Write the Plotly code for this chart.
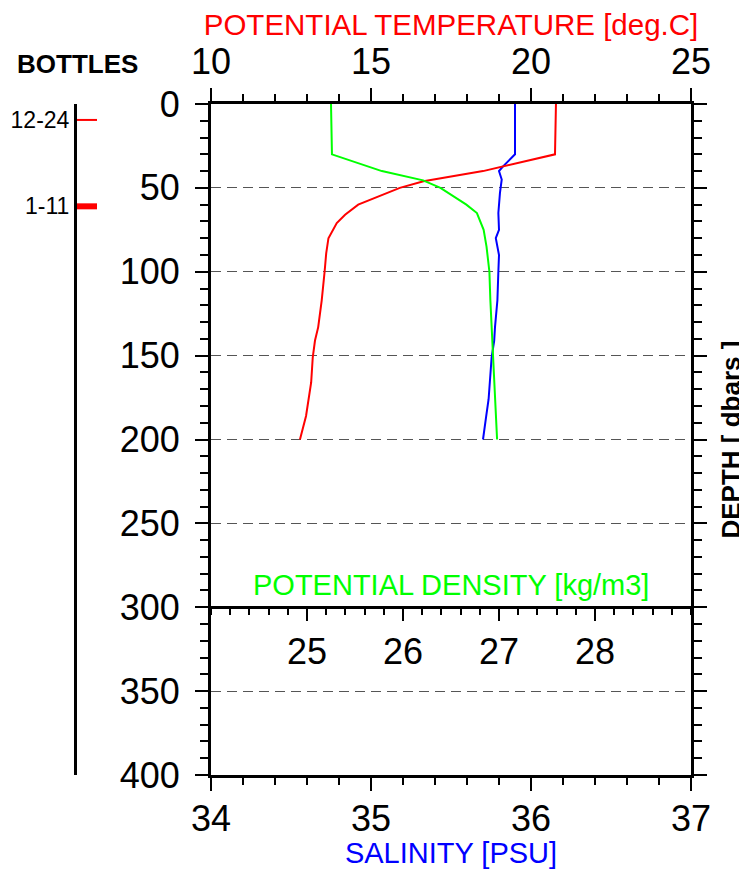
import plotly.graph_objects as go

# ---------------- data ----------------
temp_depth = [0, 30, 40, 46, 50, 60, 66, 71, 80, 89, 100, 117, 133, 141, 151, 166, 186, 200]
temp = [20.78, 20.75, 18.5, 16.64, 15.9, 14.6, 14.19, 13.93, 13.67, 13.6, 13.55, 13.46,
        13.35, 13.25, 13.18, 13.13, 12.97, 12.78]

sal_depth = [0, 30, 37, 40, 45, 53, 65, 75, 80, 90, 100, 117, 133, 141, 151, 166, 176, 186, 200]
sal = [35.9, 35.9, 35.827, 35.8, 35.817, 35.806, 35.796, 35.8, 35.78, 35.8, 35.796, 35.79,
       35.775, 35.77, 35.754, 35.744, 35.735, 35.72, 35.70]

dens_depth = [0, 30, 40, 45.5, 50, 60, 65, 75, 85, 100, 117, 140, 150, 176, 200]
dens = [25.25, 25.26, 25.78, 26.21, 26.39, 26.66, 26.77, 26.84, 26.87, 26.9, 26.91,
        26.93, 26.94, 26.96, 26.98]

bottle_labels = ["12-24", "1-11"]
bottle_depths = [9.5, 61]

depth_ticks = [0, 50, 100, 150, 200, 250, 300, 350, 400]
sal_ticks = [34, 35, 36, 37]
temp_ticks = [10, 15, 20, 25]
dens_ticks = [25, 26, 27, 28]

FONT = "Liberation Sans, Arial, sans-serif"
TICKFONT = dict(family=FONT, size=36, color="black")

# page body has an 8px margin; figure sized to fit the window
W, H = 739, 861
ML, MR, MT, MB = 2, 56, 96, 94
pw = W - ML - MR
x_dom = [(203 - ML) / pw, 1.0]
b_dom = [(69 - ML) / pw, (89 - ML) / pw]

fig = go.Figure()

fig.add_trace(go.Scatter(x=temp, y=temp_depth, xaxis="x2", yaxis="y", mode="lines",
                         line=dict(color="#ff0000", width=2), showlegend=False))
fig.add_trace(go.Scatter(x=dens, y=dens_depth, xaxis="x3", yaxis="y", mode="lines",
                         line=dict(color="#00ff00", width=2), showlegend=False))
fig.add_trace(go.Scatter(x=sal, y=sal_depth, xaxis="x", yaxis="y", mode="lines",
                         line=dict(color="#0000ff", width=2), showlegend=False))

# bottle column: bottle depths as red ticks on their own depth axis
for d, w in zip(bottle_depths, [2, 6]):
    fig.add_trace(go.Scatter(x=[0, 1], y=[d, d], xaxis="x4", yaxis="y2", mode="lines",
                             line=dict(color="#ff0000", width=w), showlegend=False))

common = dict(ticks="outside", tickwidth=1.5, tickcolor="black", showline=True,
              linecolor="black", linewidth=3, showgrid=False, zeroline=False,
              tickfont=TICKFONT)

fig.update_layout(
    width=W, height=H,
    margin=dict(l=ML, r=MR, t=MT, b=MB, autoexpand=False),
    paper_bgcolor="white", plot_bgcolor="rgba(0,0,0,0)",
    xaxis=dict(domain=x_dom, range=[34, 37], tickvals=sal_ticks, side="bottom", anchor="y",
               ticklen=13, ticklabelstandoff=-3,
               minor=dict(dtick=0.2, ticks="outside", ticklen=7, tickwidth=1.5, tickcolor="black"),
               title=dict(text="SALINITY [PSU]", font=dict(family=FONT, size=29, color="#0000ff"), standoff=11),
               **common),
    xaxis2=dict(domain=x_dom, range=[10, 25], tickvals=temp_ticks, side="top", anchor="y",
                overlaying="x", ticklen=13,
                minor=dict(dtick=1, ticks="outside", ticklen=7, tickwidth=1.5, tickcolor="black"),
                title=dict(text="POTENTIAL TEMPERATURE [deg.C]", font=dict(family=FONT, size=29.5, color="#ff0000"), standoff=4),
                **common),
    xaxis3=dict(domain=x_dom, range=[24, 29], tickvals=dens_ticks, side="bottom", anchor="free",
                position=0.25, overlaying="x", ticklen=12,
                minor=dict(dtick=0.2, ticks="outside", ticklen=6, tickwidth=1.5, tickcolor="black"),
                **common),
    xaxis4=dict(domain=b_dom, range=[0, 1], visible=False, anchor="y2"),
    yaxis=dict(range=[400, 0], tickvals=depth_ticks, anchor="x", mirror="ticks", ticklen=13,
               minor=dict(dtick=10, ticks="outside", ticklen=8, tickwidth=1.5, tickcolor="black"),
               ticks="outside", tickwidth=1.5, tickcolor="black", showline=True,
               linecolor="black", linewidth=3, zeroline=False, tickfont=TICKFONT,
               ticklabelstandoff=8,
               showgrid=True, gridcolor="#555555", gridwidth=1, griddash="10px,6px"),
    yaxis2=dict(range=[400, 0], anchor="x4", side="left", showline=True, linecolor="black",
                linewidth=3, ticks="", tickvals=bottle_depths, ticktext=bottle_labels,
                tickfont=dict(family=FONT, size=23, color="black"), ticklabelstandoff=0,
                showgrid=False, zeroline=False),
    annotations=[
        dict(text="POTENTIAL DENSITY [kg/m3]", x=0.5, xref="x domain", y=300, yref="y",
             yanchor="bottom", yshift=4, showarrow=False,
             font=dict(family=FONT, size=29, color="#00ff00")),
        dict(text="<b>BOTTLES</b>", x=0, xref="x4 domain", xanchor="center", y=1, yref="paper",
             yanchor="middle", yshift=40, showarrow=False,
             font=dict(family=FONT, size=26, color="black")),
        dict(text="<b>DEPTH [ dbars ]</b>", x=1, xref="paper", xanchor="center", xshift=39,
             y=0.5, yref="paper", yanchor="middle",
             textangle=-90, showarrow=False, font=dict(family=FONT, size=26, color="black")),
    ],
)

fig.write_html("out.html")
